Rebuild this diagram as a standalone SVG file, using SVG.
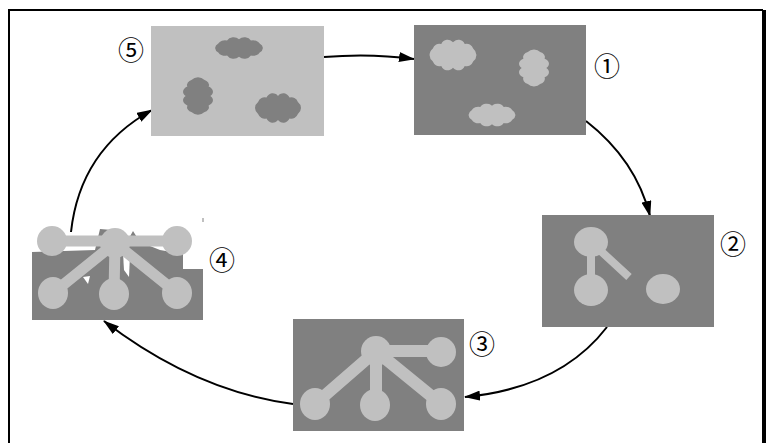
<svg xmlns="http://www.w3.org/2000/svg" width="770" height="443" viewBox="0 0 770 443">
  <style>
    .dark { fill: #808080; }
    .light { fill: #c0c0c0; }
    .bar { stroke: #c0c0c0; fill: none; stroke-linecap: butt; }
    .edge { fill: none; stroke: #000; stroke-width: 2; }
    .num { font-family: "Noto Sans CJK JP", "DejaVu Sans", sans-serif; font-size: 26px; fill: #000; text-anchor: middle; dominant-baseline: central; }
  </style>
  <defs>
    <!-- bumpy cloud outline, roughly 48 x 28, centred on the origin -->
    <path id="cloud" d="M23,0 A7,7 0 0 1 19.9,5.5 A7,7 0 0 1 11.5,9.5 A7,7 0 0 1 0,11 A7,7 0 0 1 -11.5,9.5 A7,7 0 0 1 -19.9,5.5 A7,7 0 0 1 -23,0 A7,7 0 0 1 -19.9,-5.5 A7,7 0 0 1 -11.5,-9.5 A7,7 0 0 1 0,-11 A7,7 0 0 1 11.5,-9.5 A7,7 0 0 1 19.9,-5.5 A7,7 0 0 1 23,0 Z"/>
    <marker id="head" markerUnits="userSpaceOnUse" markerWidth="16" markerHeight="10" refX="15" refY="5" orient="auto">
      <path d="M0,0 L16,5 L0,10 z" fill="#000"/>
    </marker>
  </defs>

  <rect width="770" height="443" fill="#fff"/>

  <!-- frame -->
  <g id="frame" fill="#000">
    <rect x="8" y="9" width="755" height="2"/>
    <rect x="8" y="9" width="2" height="434"/>
    <rect x="762" y="10" width="4" height="433"/>
  </g>

  <!-- connectors -->
  <g id="connectors">
    <path class="edge" d="M324,57 Q370,53 414,59" marker-end="url(#head)"/>
    <path class="edge" d="M586,121 Q636,160 650,216" marker-end="url(#head)"/>
    <path class="edge" d="M607,327 Q560,388 465,397" marker-end="url(#head)"/>
    <path class="edge" d="M293,404 Q195,391 104,321" marker-end="url(#head)"/>
    <path class="edge" d="M71,232 Q80,150 152,110" marker-end="url(#head)"/>
  </g>

  <!-- node 5: light field with dark clouds -->
  <g id="node5">
    <rect class="light" x="151" y="26" width="173" height="110"/>
    <use href="#cloud" class="dark" transform="translate(239,48) scale(1.04,0.8)"/>
    <use href="#cloud" class="dark" transform="translate(198,96) rotate(90) scale(0.82,1.12)"/>
    <use href="#cloud" class="dark" transform="translate(278,108) scale(1,1.1)"/>
    <text class="num" x="131" y="48">⑤</text>
  </g>

  <!-- node 1: dark field with light clouds -->
  <g id="node1">
    <rect class="dark" x="414" y="25" width="172" height="110"/>
    <use href="#cloud" class="light" transform="translate(453,55) scale(1.02,1.15)"/>
    <use href="#cloud" class="light" transform="translate(534,68) rotate(90) scale(0.8,1.12)"/>
    <use href="#cloud" class="light" transform="translate(492,115) scale(1.02,0.85)"/>
    <text class="num" x="607" y="64">①</text>
  </g>

  <!-- node 2: partial graph -->
  <g id="node2">
    <rect class="dark" x="542" y="215" width="172" height="112"/>
    <path class="bar" stroke-width="8" d="M591,242 V290 M591,242 L629,277"/>
    <ellipse class="light" cx="591" cy="242" rx="17" ry="15"/>
    <ellipse class="light" cx="591" cy="290" rx="17" ry="16"/>
    <ellipse class="light" cx="663" cy="289" rx="17" ry="15"/>
    <text class="num" x="733" y="242">②</text>
  </g>

  <!-- node 3: full graph -->
  <g id="node3">
    <rect class="dark" x="293" y="319" width="171" height="112"/>
    <path class="bar" stroke-width="12" d="M376,351 L441,351 M376,351 L315,404 M376,351 L376,405 M376,351 L441,404"/>
    <ellipse class="light" cx="376" cy="351" rx="15" ry="15"/>
    <ellipse class="light" cx="441" cy="352" rx="15" ry="15"/>
    <ellipse class="light" cx="315" cy="404" rx="15" ry="16"/>
    <ellipse class="light" cx="375" cy="405" rx="15" ry="16"/>
    <ellipse class="light" cx="441" cy="404" rx="15" ry="16"/>
    <text class="num" x="482" y="342">③</text>
  </g>

  <!-- node 4: graph over a broken field -->
  <g id="node4">
    <polygon class="dark" points="32,320 32,252 95,250 100,229 112,230 118,250 128,240 133,231 140,242 160,250 183,254 183,269 203,269 203,320"/>
    <polygon fill="#fff" points="83,277 90,276 88,284"/>
    <polygon fill="#fff" points="123,253 130,255 129,277 124,270"/>
    <rect fill="#c0c0c0" x="202" y="218" width="2" height="4"/>
    <path class="bar" stroke-width="11" d="M52,241 L177,241 M115,243 L53,293 M115,243 L114,294 M115,243 L177,293"/>
    <ellipse class="light" cx="52" cy="241" rx="15" ry="15"/>
    <ellipse class="light" cx="115" cy="243" rx="15" ry="15"/>
    <ellipse class="light" cx="177" cy="241" rx="15" ry="15"/>
    <ellipse class="light" cx="53" cy="293" rx="15" ry="16"/>
    <ellipse class="light" cx="114" cy="294" rx="15" ry="16"/>
    <ellipse class="light" cx="177" cy="293" rx="15" ry="16"/>
    <text class="num" x="222" y="258">④</text>
  </g>
</svg>
